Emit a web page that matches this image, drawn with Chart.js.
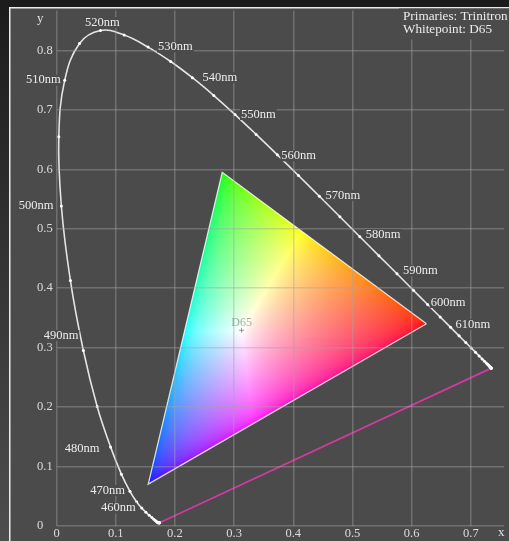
<!DOCTYPE html>
<html>
<head>
<meta charset="utf-8">
<title>CIE 1931 chromaticity – Trinitron gamut</title>
<script src="https://cdn.jsdelivr.net/npm/chart.js@4/dist/chart.umd.min.js"></script>
<style>
  html, body { margin: 0; padding: 0; background: #1c1c1c; }
  #wrap { width: 509px; height: 541px; }
  canvas { display: block; }
</style>
</head>
<body>
<div id="wrap"><canvas id="cie" width="509" height="541"></canvas></div>
<script>
// CIE 1931 2° spectral locus, chromaticity coordinates every 5 nm
const wavelengths = [380,385,390,395,400,405,410,415,420,425,430,435,440,445,450,455,460,465,470,475,
  480,485,490,495,500,505,510,515,520,525,530,535,540,545,550,555,560,565,570,575,580,585,590,595,
  600,605,610,615,620,625,630,635,640,645,650,655,660,665,670,675,680,685,690,695,700];
const locusX = [0.1741,0.1740,0.1738,0.1736,0.1733,0.1730,0.1726,0.1721,0.1714,0.1703,0.1689,0.1669,
  0.1644,0.1611,0.1566,0.1510,0.1440,0.1355,0.1241,0.1096,0.0913,0.0687,0.0454,0.0235,0.0082,0.0039,
  0.0139,0.0389,0.0743,0.1142,0.1547,0.1929,0.2296,0.2658,0.3016,0.3373,0.3731,0.4087,0.4441,0.4788,
  0.5125,0.5448,0.5752,0.6029,0.6270,0.6482,0.6658,0.6801,0.6915,0.7006,0.7079,0.7140,0.7190,0.7230,
  0.7260,0.7283,0.7300,0.7311,0.7320,0.7327,0.7334,0.7340,0.7344,0.7346,0.7347];
const locusY = [0.0050,0.0050,0.0049,0.0049,0.0048,0.0048,0.0048,0.0048,0.0051,0.0058,0.0069,0.0086,
  0.0109,0.0138,0.0177,0.0227,0.0297,0.0399,0.0578,0.0868,0.1327,0.2007,0.2950,0.4127,0.5384,0.6548,
  0.7502,0.8120,0.8338,0.8262,0.8059,0.7816,0.7543,0.7243,0.6923,0.6589,0.6245,0.5896,0.5547,0.5202,
  0.4866,0.4544,0.4242,0.3965,0.3725,0.3514,0.3340,0.3197,0.3083,0.2993,0.2920,0.2859,0.2809,0.2770,
  0.2740,0.2717,0.2700,0.2689,0.2680,0.2673,0.2666,0.2660,0.2656,0.2654,0.2653];

// wavelengths that get a text label
const labelledWavelengths = [460,470,480,490,500,510,520,530,540,550,560,570,580,590,600,610];

// Trinitron phosphor primaries (R, G, B) and the D65 white point
const primaryNames = ['R', 'G', 'B'];
const primaryX = [0.625, 0.280, 0.155];
const primaryY = [0.340, 0.595, 0.070];
const whiteName = 'D65';
const whiteX = [0.3127];
const whiteY = [0.3290];

const captionLines = ['Primaries: Trinitron', 'Whitepoint: D65'];

// axis ranges and tick step
const xRange = [0, 0.756];
const yRange = [0, 0.8675];
const tickStep = 0.1;

// ---- layout / style helpers (not data) ----
const PANEL_BG = '#4b4b4b';
const SERIF = '"Liberation Serif", "DejaVu Serif", serif';
// text offsets from each labelled locus point, in px
const labelNudge = {
  460: [-6, 0], 470: [-5, -1], 480: [-11, 2], 490: [-5, -15], 500: [-8, 0], 510: [-4, 0],
  520: [2, -8], 530: [10, 0], 540: [10, 0], 550: [6, 0], 560: [4, 1], 570: [6, -1],
  580: [6, -2], 590: [6, -3], 600: [3, -2], 610: [5, -3]
};

// ---- colour maths: chromaticity -> display RGB for the given primaries ----
function inv3(m) {
  const [a, b, c] = m[0], [d, e, f] = m[1], [g, h, i] = m[2];
  const A = e * i - f * h, B = -(d * i - f * g), C = d * h - e * g;
  const det = a * A + b * B + c * C;
  return [
    [A / det, -(b * i - c * h) / det, (b * f - c * e) / det],
    [B / det, (a * i - c * g) / det, -(a * f - c * d) / det],
    [C / det, -(a * h - b * g) / det, (a * e - b * d) / det]
  ];
}
function mulVec(m, v) {
  return [m[0][0] * v[0] + m[0][1] * v[1] + m[0][2] * v[2],
          m[1][0] * v[0] + m[1][1] * v[1] + m[1][2] * v[2],
          m[2][0] * v[0] + m[2][1] * v[1] + m[2][2] * v[2]];
}
function xyzToRgbMatrix() {
  const P = [
    primaryX.map((x, k) => x / primaryY[k]),
    [1, 1, 1],
    primaryX.map((x, k) => (1 - x - primaryY[k]) / primaryY[k])
  ];
  const W = [whiteX[0] / whiteY[0], 1, (1 - whiteX[0] - whiteY[0]) / whiteY[0]];
  const S = mulVec(inv3(P), W);
  const M = P.map(row => row.map((v, k) => v * S[k]));
  return inv3(M);
}
const XYZ2RGB = xyzToRgbMatrix();

// page backdrop and bordered panel
const backdrop = {
  id: 'backdrop',
  beforeDraw(chart) {
    const { ctx, width, height } = chart;
    ctx.save();
    const g = ctx.createLinearGradient(0, 0, 0, height);
    g.addColorStop(0, '#1b1b1b');
    g.addColorStop(1, '#4e4e4e');
    ctx.fillStyle = g;
    ctx.fillRect(0, 0, width, height);
    ctx.fillStyle = PANEL_BG;
    ctx.fillRect(9, 7, width - 9, height - 7);
    ctx.strokeStyle = '#ececec';
    ctx.lineWidth = 1.5;
    ctx.beginPath();
    ctx.moveTo(9.75, height);
    ctx.lineTo(9.75, 7.75);
    ctx.lineTo(width, 7.75);
    ctx.stroke();
    ctx.restore();
  }
};

// colour-filled gamut triangle, each pixel coloured from its chromaticity
const gamutFill = {
  id: 'gamutFill',
  beforeDatasetsDraw(chart) {
    const { ctx } = chart;
    const xs = chart.scales.x, ys = chart.scales.y;
    const verts = primaryX.map((v, k) => [xs.getPixelForValue(v), ys.getPixelForValue(primaryY[k])]);
    const x0 = Math.floor(Math.min(...verts.map(p => p[0]))) - 1;
    const x1 = Math.ceil(Math.max(...verts.map(p => p[0]))) + 1;
    const y0 = Math.floor(Math.min(...verts.map(p => p[1]))) - 1;
    const y1 = Math.ceil(Math.max(...verts.map(p => p[1]))) + 1;
    const w = x1 - x0, h = y1 - y0;
    const off = document.createElement('canvas');
    off.width = w; off.height = h;
    const octx = off.getContext('2d');
    const img = octx.createImageData(w, h);
    const d = img.data;
    for (let j = 0; j < h; j++) {
      const yv = ys.getValueForPixel(y0 + j + 0.5);
      for (let i = 0; i < w; i++) {
        const xv = xs.getValueForPixel(x0 + i + 0.5);
        if (yv <= 0) continue;
        const rgb = mulVec(XYZ2RGB, [xv / yv, 1, (1 - xv - yv) / yv]).map(c => Math.max(0, c));
        const m = Math.max(rgb[0], rgb[1], rgb[2]);
        if (m <= 0) continue;
        const o = (j * w + i) * 4;
        d[o] = Math.round(255 * Math.pow(rgb[0] / m, 1 / 2.2));
        d[o + 1] = Math.round(255 * Math.pow(rgb[1] / m, 1 / 2.2));
        d[o + 2] = Math.round(255 * Math.pow(rgb[2] / m, 1 / 2.2));
        d[o + 3] = 255;
      }
    }
    octx.putImageData(img, 0, 0);
    ctx.save();
    ctx.beginPath();
    verts.forEach((p, k) => (k ? ctx.lineTo(p[0], p[1]) : ctx.moveTo(p[0], p[1])));
    ctx.closePath();
    ctx.clip();
    ctx.drawImage(off, x0, y0);
    ctx.restore();
  }
};

// wavelength labels, caption, white point name and axis letters
const annotations = {
  id: 'annotations',
  afterDraw(chart) {
    const { ctx } = chart;
    const xs = chart.scales.x, ys = chart.scales.y;
    ctx.save();
    ctx.textBaseline = 'middle';

    ctx.font = '12.5px ' + SERIF;
    labelledWavelengths.forEach(wl => {
      const k = wavelengths.indexOf(wl);
      const px = xs.getPixelForValue(locusX[k]);
      const py = ys.getPixelForValue(locusY[k]);
      const [dx, dy] = labelNudge[wl] || [0, 0];
      const text = wl + 'nm';
      const tw = ctx.measureText(text).width;
      let left;
      if (wl < 520) left = px + dx - tw;
      else if (wl === 520) left = px + dx - tw / 2;
      else left = px + dx;
      const cy = py + dy;
      ctx.fillStyle = PANEL_BG;
      ctx.fillRect(left - 1, cy - 5.5, tw + 2, 11);
      ctx.fillStyle = '#ececec';
      ctx.textAlign = 'left';
      ctx.fillText(text, left, cy);
    });

    // caption in the top-right corner
    ctx.font = '13.2px ' + SERIF;
    ctx.fillStyle = PANEL_BG;
    ctx.fillRect(399, 8.5, chart.width - 399, 31);
    ctx.fillStyle = '#ececec';
    ctx.textAlign = 'left';
    captionLines.forEach((line, k) => ctx.fillText(line, 403, 17 + k * 13));

    // white point name
    ctx.font = '12px ' + SERIF;
    ctx.textAlign = 'center';
    ctx.fillStyle = 'rgba(90,90,90,0.5)';
    ctx.fillText(whiteName, xs.getPixelForValue(whiteX[0]), ys.getPixelForValue(whiteY[0]) - 7);

    // axis letters
    ctx.font = '13px ' + SERIF;
    ctx.fillStyle = '#e0e0e0';
    ctx.textAlign = 'left';
    ctx.fillText('y', ys.left, ys.top + 8);
    ctx.fillText('x', xs.right - 6, xs.top + 7);
    ctx.restore();
  }
};

const pts = (xsArr, ysArr) => xsArr.map((x, k) => ({ x, y: ysArr[k] }));
const gamutPts = pts(primaryX, primaryY);
gamutPts.push(gamutPts[0]);
const last = wavelengths.length - 1;

new Chart(document.getElementById('cie'), {
  type: 'scatter',
  data: {
    datasets: [
      {
        label: 'spectral locus',
        data: pts(locusX, locusY),
        showLine: true,
        tension: 0.4,
        borderColor: '#e4e4e4',
        borderWidth: 1.6,
        pointRadius: 1.5,
        pointBorderWidth: 0,
        pointBackgroundColor: '#ffffff'
      },
      {
        label: 'line of purples',
        data: [{ x: locusX[0], y: locusY[0] }, { x: locusX[last], y: locusY[last] }],
        showLine: true,
        borderColor: '#d23a9f',
        borderWidth: 1.7,
        pointRadius: 0
      },
      {
        label: 'gamut',
        data: gamutPts,
        showLine: true,
        borderColor: 'rgba(255,255,255,0.8)',
        borderWidth: 1.3,
        pointRadius: 0
      },
      {
        label: whiteName,
        data: pts(whiteX, whiteY),
        pointStyle: 'cross',
        pointRadius: 2.5,
        borderWidth: 1,
        borderColor: 'rgba(90,90,90,0.6)'
      }
    ]
  },
  options: {
    responsive: false,
    devicePixelRatio: 1,
    animation: false,
    events: [],
    layout: { padding: { left: 37, top: 8, right: 0, bottom: 0 } },
    plugins: { legend: { display: false }, tooltip: { enabled: false } },
    scales: {
      x: {
        type: 'linear',
        min: xRange[0], max: xRange[1],
        afterFit(scale) { scale.height = 15.3; },
        grid: { color: 'rgba(165,165,165,0.42)', lineWidth: 1.5, drawTicks: false, z: 1 },
        border: { display: false },
        ticks: {
          stepSize: tickStep, includeBounds: false, padding: 1,
          color: '#dcdcdc', font: { family: SERIF, size: 12.5 }
        }
      },
      y: {
        type: 'linear',
        min: yRange[0], max: yRange[1],
        afterFit(scale) { scale.width = 19.5; },
        grid: { color: 'rgba(165,165,165,0.42)', lineWidth: 1.5, drawTicks: false, z: 1 },
        border: { display: false },
        ticks: {
          stepSize: tickStep, includeBounds: false, crossAlign: 'far',
          color: '#dcdcdc', font: { family: SERIF, size: 12.5 }
        }
      }
    }
  },
  plugins: [backdrop, gamutFill, annotations]
});
</script>
</body>
</html>
